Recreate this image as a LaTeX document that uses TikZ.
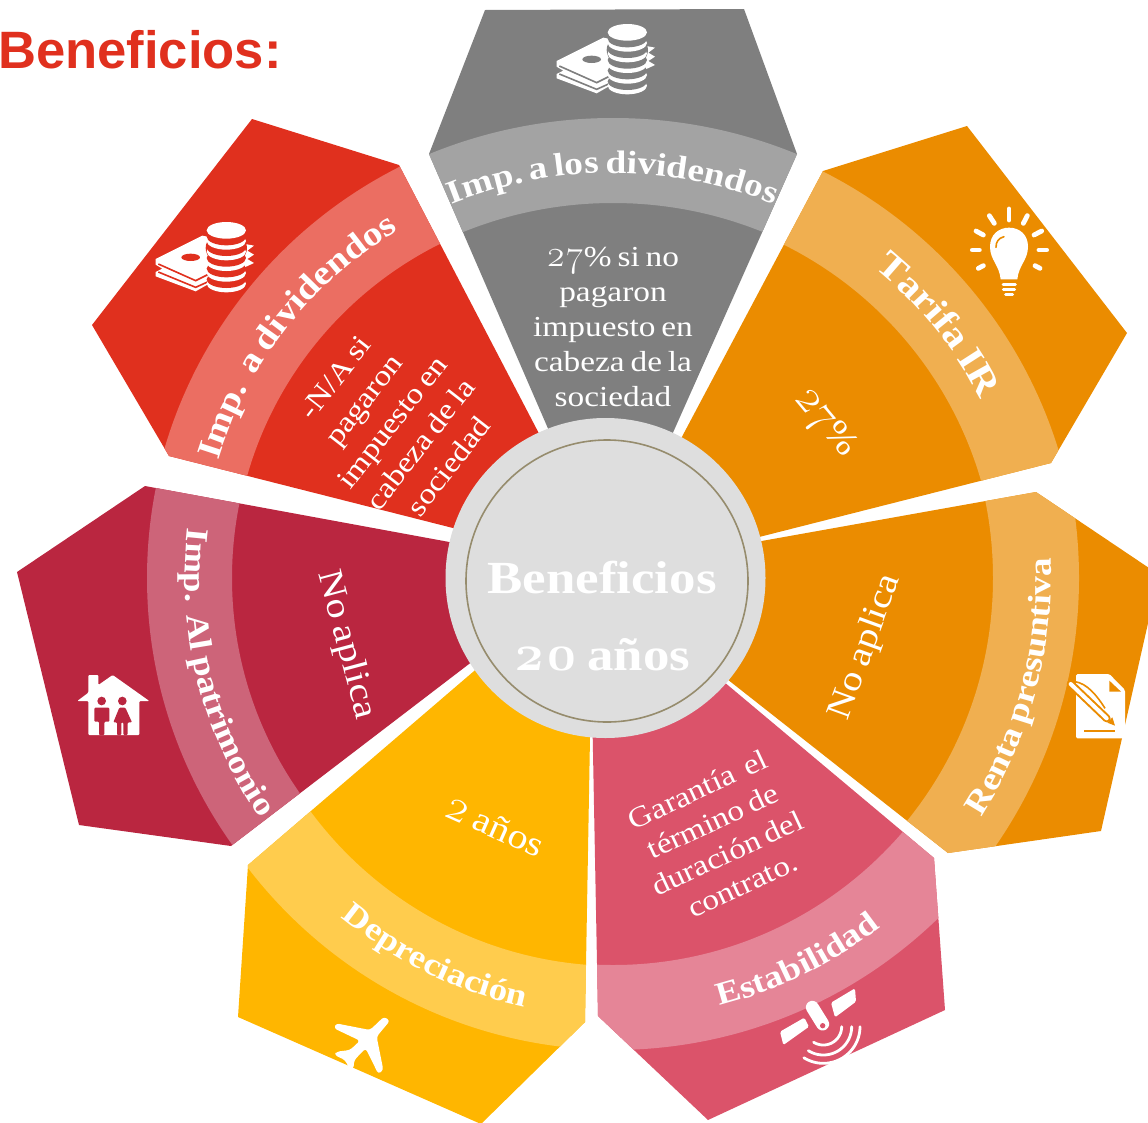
\documentclass[tikz,border=0pt]{standalone}
\usepackage{fontspec}
\usetikzlibrary{decorations.text}
\setmainfont{Liberation Serif}
\newfontfamily\bodyf[FakeStretch=1.15,WordSpace=0.7]{Liberation Serif}
\newfontfamily\osn[Numbers=OldStyle,Scale=1.28]{Latin Modern Roman}
\newfontfamily\arialf{Liberation Sans}
\definecolor{cGray}{HTML}{7F7F7F}\definecolor{cGrayL}{HTML}{A3A3A3}
\definecolor{cRed}{HTML}{E0301E}\definecolor{cRedL}{HTML}{EB6E62}
\definecolor{cOrange}{HTML}{EB8C00}\definecolor{cOrangeL}{HTML}{F0AF50}
\definecolor{cCrimson}{HTML}{BA2640}\definecolor{cCrimsonL}{HTML}{CD6479}
\definecolor{cYellow}{HTML}{FFB600}\definecolor{cYellowL}{HTML}{FFCC4D}
\definecolor{cPink}{HTML}{DB536A}\definecolor{cPinkL}{HTML}{E58597}
\definecolor{cDisc}{HTML}{DEDEDE}\definecolor{cRing}{HTML}{968C6D}
\tikzset{
 bodytext/.style={text=white,align=center,inner sep=0pt,font=\bodyf\fontsize{29}{35}\selectfont},
 bigtext/.style={bodytext,font=\bodyf\fontsize{35}{35}\selectfont},
 ray/.style={white,line width=4.8pt,line cap=round},
}
\newcommand\petal[6]{%
 \begin{scope}
  \fill[#1] #3;
  \clip #3;
  \fill[#2,even odd rule] #4 circle[radius=#5 pt] circle[radius=#6 pt];
 \end{scope}}
% cx cy R th0 th1 size text
\newcommand\curved[7]{%
 \path[decorate,decoration={text along path,text align={align=center},
   text={|\color{white}\bodyf\bfseries\fontsize{#6}{#6}\selectfont|#7}}]
  plot[domain=#4:#5,samples=90] ({#1+#3*cos(\x)},{#2+#3*sin(\x)});}
\newcommand\coins[1]{%
 \begin{scope}[scale=1/3]
  \fill[white] (470,235)--(470,222)--(490,212)--(470,200)--(470,183)--(610,113)--(765,143)--(745,158)--(765,170)--(745,183)--(765,195)--(625,260)--(590,280)--cycle;
  \draw[#1,line width=1.6pt] (478,198)--(590,248)--(630,228) (478,222)--(590,268)--(630,250);
  \fill[#1] (575,178) ellipse[x radius=28pt,y radius=11pt];
  \fill[#1] (682,150) ellipse[x radius=62pt,y radius=50pt];
  \foreach \k in {5,4,3,2,1}{
   \fill[white] (682,{97+32*\k}) ellipse[x radius=59pt,y radius=26pt];
   \fill[#1] (682,{97+32*\k-13}) ellipse[x radius=59pt,y radius=26pt];}
  \fill[white] (682,97) ellipse[x radius=59pt,y radius=25pt];
 \end{scope}}
\begin{document}
\begin{tikzpicture}[x=1pt,y=-1pt]
\useasboundingbox (0,0) rectangle (1148,1122);
% petals
\petal{cGray}{cGrayL}{(485,10)--(744,9)--(797,154)--(643,500)--(579,500)--(429,154)--cycle}{(613,603)}{485}{400}
\petal{cRed}{cRedL}{(252,119)--(399,165)--(570,493)--(520,545)--(169,456)--(92,325)--cycle}{(606,578)}{460}{373}
\petal{cOrange}{cOrangeL}{(823,171)--(967,126)--(1127,333)--(1051,463)--(700,552)--(650,497)--cycle}{(614,587)}{465}{382}
\petal{cCrimson}{cCrimsonL}{(145,486)--(520,555)--(520,625)--(231,846)--(79,825)--(17,572)--cycle}{(607,578)}{460}{375}
\petal{cOrange}{cOrangeL}{(700,552)--(1036,492)--(1152,570)--(1151,610)--(1101,831)--(948,853)--(680,642)--cycle}{(607,578)}{472}{386}
\petal{cYellow}{cYellowL}{(248,865)--(238,1017)--(481,1124)--(585,1022)--(591,680)--(530,623)--cycle}{(617,585)}{465}{381}
\petal{cPink}{cPinkL}{(592,700)--(598,1016)--(708,1120)--(945,1010)--(934,858)--(680,645)--cycle}{(613,583)}{467}{382}
% centre disc
\fill[cDisc] (605.5,578) circle[radius=160pt];
\draw[cRing,line width=1.6pt] (607,581) circle[radius=141pt];
\node[inner sep=0pt,text=white] (cA) at (602,578) {\bodyf\bfseries\fontsize{46}{46}\selectfont Beneficios};
\node[inner sep=0pt,text=white] (cB) at (602,655) {\bodyf\bfseries\fontsize{46}{46}\selectfont{\osn\bfseries\fontsize{40}{40}\selectfont 20} años};
% heading
\node[anchor=base west,inner sep=0pt,text=cRed] (head) at (-2,68) {\arialf\bfseries\fontsize{52.6}{52.6}\selectfont Beneficios:};
% curved titles
\curved{613}{603}{430}{-130}{-50}{32.5}{Imp. a los dividendos}
\curved{606}{578}{405}{-182}{-102}{34}{Imp.{\ } a dividendos}
\curved{614}{587}{412}{-79}{1}{37}{Tarifa IR}
\curved{607}{578}{444}{55}{-25}{32.5}{Renta presuntiva}
\curved{607}{578}{422}{206}{126}{32}{Imp.{\ } Al patrimonio}
\curved{617}{585}{432}{156}{76}{32}{Depreciación}
\curved{613}{583}{436}{104}{24}{32}{Estabilidad}
% body texts
\node[bodytext] (tTop) at (613,327) {{\osn 27}\% si no\\pagaron\\impuesto en\\cabeza de la\\sociedad};
\node[bodytext,rotate=52,font=\bodyf\fontsize{29}{36}\selectfont] (tRed) at (392,422) {-N/A si\\pagaron\\impuesto en\\cabeza de la\\sociedad};
\node[bigtext,rotate=-50] (tOr) at (824,424) {{\osn 27}\%};
\node[bigtext,rotate=70] (tRen) at (866,647) {No aplica};
\node[bigtext,rotate=-75] (tCr) at (346,645) {No aplica};
\node[bigtext,rotate=-24] (tYe) at (495,826) {{\osn 2} años};
\node[bodytext,rotate=25] (tPi) at (720,837) {Garantía~ el\\término de\\duración del\\contrato.};
% coins icons
\begin{scope}[shift={(400,0)}]\coins{cGray}\end{scope}
\begin{scope}[shift={(-1,198)}]\coins{cRed}\end{scope}
% bulb
\begin{scope}[shift={(940,190)},scale=1/3]
 \foreach \a/\b/\c/\d in {207/57/207/90,148/77/163/100,262/77/250/100,108/123/130/135,305/123/282/135,97/180/118/180,297/180/320/180,115/235/130/227,285/227/300/235}
  \draw[ray] (\a,\b)--(\c,\d);
 \fill[white] (182,268) .. controls (178,225) and (150,210) .. (150,170) .. controls (150,135) and (175,113) .. (207,113) .. controls (240,113) and (264,135) .. (264,170) .. controls (264,210) and (236,225) .. (232,268)--cycle;
 \draw[cOrange,line width=1.6pt,line cap=round] (168,172) .. controls (168,155) and (175,145) .. (192,140);
 \draw[white,line width=3pt,line cap=round] (189,283)--(226,283) (190,298)--(224,298) (197,313)--(218,313);
\end{scope}
% document and pen
\begin{scope}[shift={(1050,660)},scale=1/3]
 \fill[white,rounded corners=1.5pt] (78,42)--(178,42)--(225,90)--(225,235)--(78,235)--cycle;
 \fill[cOrange] (178,62)--(178,95)--(213,95)--cycle;
 \draw[cOrange,line width=8pt,line cap=round] (62,72)--(170,175);
 \draw[white,line width=4pt,line cap=round] (62,72)--(170,175);
 \draw[cOrange,line width=1.6pt] (75,65) .. controls (110,70) and (140,105) .. (165,145);
 \fill[cOrange] (172,188)--(195,197)--(187,172)--cycle;
 \draw[cOrange,line width=2.2pt] (103,212)--(195,212);
\end{scope}
% satellite
\begin{scope}[shift={(760,970)},scale=1/3]
 \fill[white,rounded corners=1.5pt] (60,185)--(133,143)--(147,170)--(70,225)--cycle;
 \fill[white,rounded corners=1.5pt] (213,98)--(285,55)--(288,95)--(225,142)--cycle;
 \draw[white,line width=13pt,line cap=round] (157,112)--(188,162);
 \fill[cPink] (188,167) circle[radius=8pt];
 \foreach \r in {55,85,110}
  \draw[white,line width=2.8pt,line cap=round] plot[domain=0:122,samples=30] ({190+\r*cos(\x)},{170+\r*sin(\x)});
\end{scope}
% plane
\begin{scope}[shift={(320,1000)},scale=1/3]
 \fill[white,rounded corners=3pt] (192,50)--(210,62)--(170,110)--(190,210)--(175,222)--(137,145)--(103,180)--(100,208)--(88,205)--(75,180)--(43,165)--(50,155)--(90,150)--(120,122)--(42,85)--(48,70)--(150,90)--cycle;
\end{scope}
% house
\begin{scope}[shift={(60,660)},scale=1/3]
 \fill[white,rounded corners=1pt] (158,45)--(268,123)--(238,123)--(238,225)--(85,225)--(85,123)--(52,123)--(85,98)--(85,45)--(115,45)--(115,75)--cycle;
 \fill[cCrimson] (125,123) circle[radius=13pt] (187,123) circle[radius=13pt];
 \fill[cCrimson,rounded corners=1pt] (103,143)--(148,143)--(148,185)--(133,185)--(133,225)--(117,225)--(117,185)--(103,185)--cycle;
 \fill[cCrimson,rounded corners=1pt] (178,143)--(196,143)--(216,187)--(203,187)--(203,225)--(190,225)--(190,187)--(184,187)--(184,225)--(171,225)--(171,187)--(160,187)--cycle;
\end{scope}
\end{tikzpicture}
\end{document}
